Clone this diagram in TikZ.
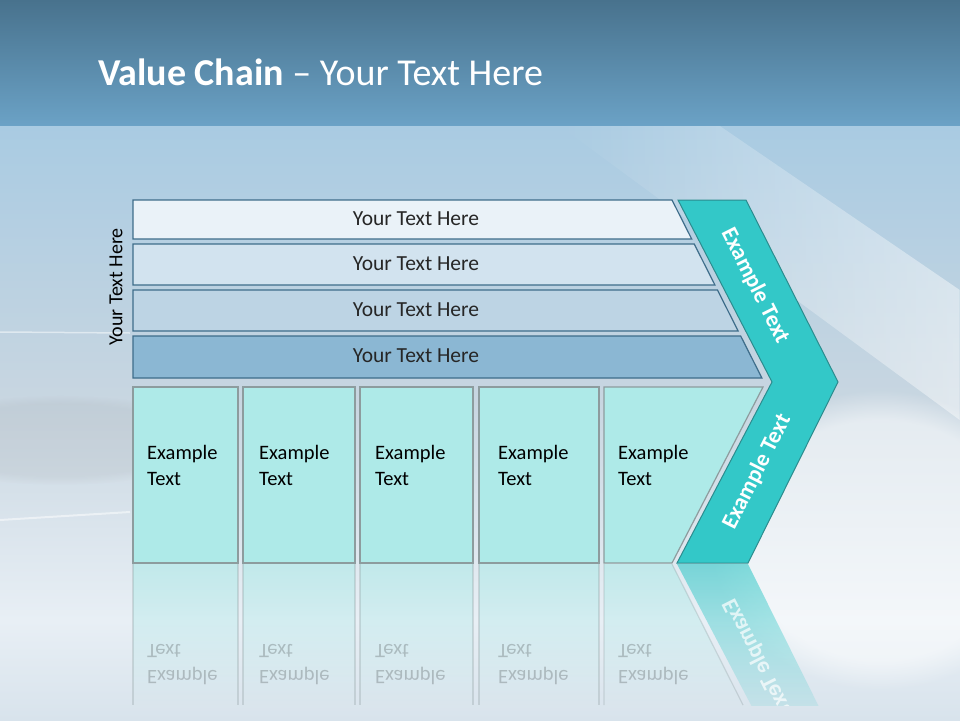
\documentclass[tikz,border=0pt]{standalone}
\usepackage{fontspec}
\setmainfont{Carlito}
\usepackage{tikz}
\usetikzlibrary{positioning,fadings}
\usepackage{xcolor}

\definecolor{bandtop}{HTML}{48728D}
\definecolor{bandbot}{HTML}{6BA2C6}
\definecolor{skytop}{HTML}{A9CBE2}
\definecolor{skybot}{HTML}{C8D6E1}
\definecolor{floormid}{HTML}{E8EFF5}
\definecolor{floorbot}{HTML}{D8E3EC}
\definecolor{barA}{HTML}{EAF2F8}
\definecolor{barB}{HTML}{D2E3EF}
\definecolor{barC}{HTML}{BDD4E4}
\definecolor{barD}{HTML}{8BB7D3}
\definecolor{barline}{HTML}{3E6D8A}
\definecolor{boxfill}{HTML}{AEEAE8}
\definecolor{boxline}{HTML}{8D9C9E}
\definecolor{chevfill}{HTML}{33C8C8}
\definecolor{chevline}{HTML}{2B8C8E}
\definecolor{txtgrey}{HTML}{262626}

\tikzfading[name=reflfade, top color=transparent!40, bottom color=transparent!100]
\tikzfading[name=rayfade, left color=transparent!100, right color=transparent!25]

\begin{document}
\begin{tikzpicture}[x=1pt,y=-1pt,
    bar/.style={draw=barline, line width=1.2pt},
    box/.style={draw=boxline, line width=1.2pt, fill=boxfill},
    chev/.style={draw=chevline, line width=1pt, fill=chevfill},
    bartxt/.style={font=\fontsize{21.5}{24}\selectfont, text=txtgrey},
    boxtxt/.style={font=\fontsize{20.5}{26}\selectfont, align=left, anchor=west, inner sep=0pt},
    chevtxt/.style={font=\fontsize{23}{26}\selectfont\bfseries, text=white}]
  \useasboundingbox (0,0) rectangle (960,720);

  % background
  \shade[top color=bandtop, bottom color=bandbot] (0,0) rectangle (960,126);
  \shade[top color=skytop, bottom color=skybot] (0,126) rectangle (960,400);
  \shade[top color=skybot, bottom color=floormid] (0,400) rectangle (960,620);
  \shade[top color=floormid, bottom color=floorbot] (0,620) rectangle (960,720);
  \fill[white, opacity=0.6, path fading=rayfade] (560,126) -- (720,126) -- (960,290) -- (960,420) -- cycle;
  \fill[white, opacity=0.5, path fading=circle with fuzzy edge 20 percent] (880,540) ellipse (170 and 150);
  \fill[gray, opacity=0.1, path fading=circle with fuzzy edge 20 percent] (60,440) ellipse (160 and 45);
  \draw[white, opacity=0.5, line width=1.5pt] (0,332) -- (130,333);
  \draw[white, opacity=0.5, line width=2pt] (0,520) -- (130,512);

  % reflection
  \begin{scope}
    \clip (0,564) rectangle (960,705);
    \foreach \xl/\xr in {133/238, 243/355, 360/473, 479/599}{
      \fill[boxfill, path fading=reflfade] (\xl,564) rectangle (\xr,705);
      \draw[boxline, opacity=0.3, line width=1.2pt] (\xl,564) -- (\xl,705) (\xr,564) -- (\xr,705);
    }
    \fill[boxfill, path fading=reflfade] (604,564) -- (672,564) -- (743,705) -- (604,705) -- cycle;
    \draw[boxline, opacity=0.3, line width=1.2pt] (604,564) -- (604,705) (672,564) -- (743,705);
    \fill[chevfill, path fading=reflfade] (677,564) -- (748,564) -- (838,745) -- (772,745) -- cycle;
    \foreach \xt [count=\i] in {147, 259, 375, 498, 618}{
      \node[boxtxt, text=black, opacity=0.2] (mirr\i) at (\xt,663)
        {\scalebox{1}[-1]{\begin{tabular}{@{}l@{}}Example\\Text\end{tabular}}};
    }
    \node[chevtxt, rotate=-63.2, opacity=0.7] (mirrchev) at (757,656)
      {\scalebox{1}[-1]{Example Text}};
  \end{scope}

  % title
  \node[anchor=base west, inner sep=0pt, text=white, font=\fontsize{38}{42}\selectfont]
    (title) at (98,85) {\textbf{Value Chain} -- Your Text Here};

  % support bars
  \foreach \ytop/\ybot/\col [count=\i] in {200/239/barA, 244/285/barB, 290/331/barC, 336/378/barD}{
    \pgfmathsetmacro{\xa}{672+0.505*(\ytop-200)}
    \pgfmathsetmacro{\xb}{672+0.505*(\ybot-200)}
    \draw[bar, fill=\col] (133,\ytop) -- (\xa,\ytop) -- (\xb,\ybot) -- (133,\ybot) -- cycle;
    \node[bartxt] (bar\i) at (416,{(\ytop+\ybot)/2-1}) {Your Text Here};
  }
  \node[rotate=90, font=\fontsize{20}{22}\selectfont, text=black] (side) at (116,287) {Your Text Here};

  % primary boxes
  \foreach \xl/\xr/\xt [count=\i] in {133/238/147, 243/355/259, 360/473/375, 479/599/498}{
    \draw[box] (\xl,387) rectangle (\xr,563);
    \node[boxtxt] (box\i) at (\xt,465) {Example\\Text};
  }
  \draw[box] (604,387) -- (763,387) -- (672,563) -- (604,563) -- cycle;
  \node[boxtxt] (box5) at (618,465) {Example\\Text};

  % chevron
  \draw[chev] (678,200) -- (746,200) -- (838,382) -- (748,563) -- (677,563) -- (772,382) -- cycle;
  \node[chevtxt, rotate=-63.2] (chevup) at (755,286) {Example Text};
  \node[chevtxt, rotate=63.2] (chevdown) at (757,472) {Example Text};
\end{tikzpicture}
\end{document}
